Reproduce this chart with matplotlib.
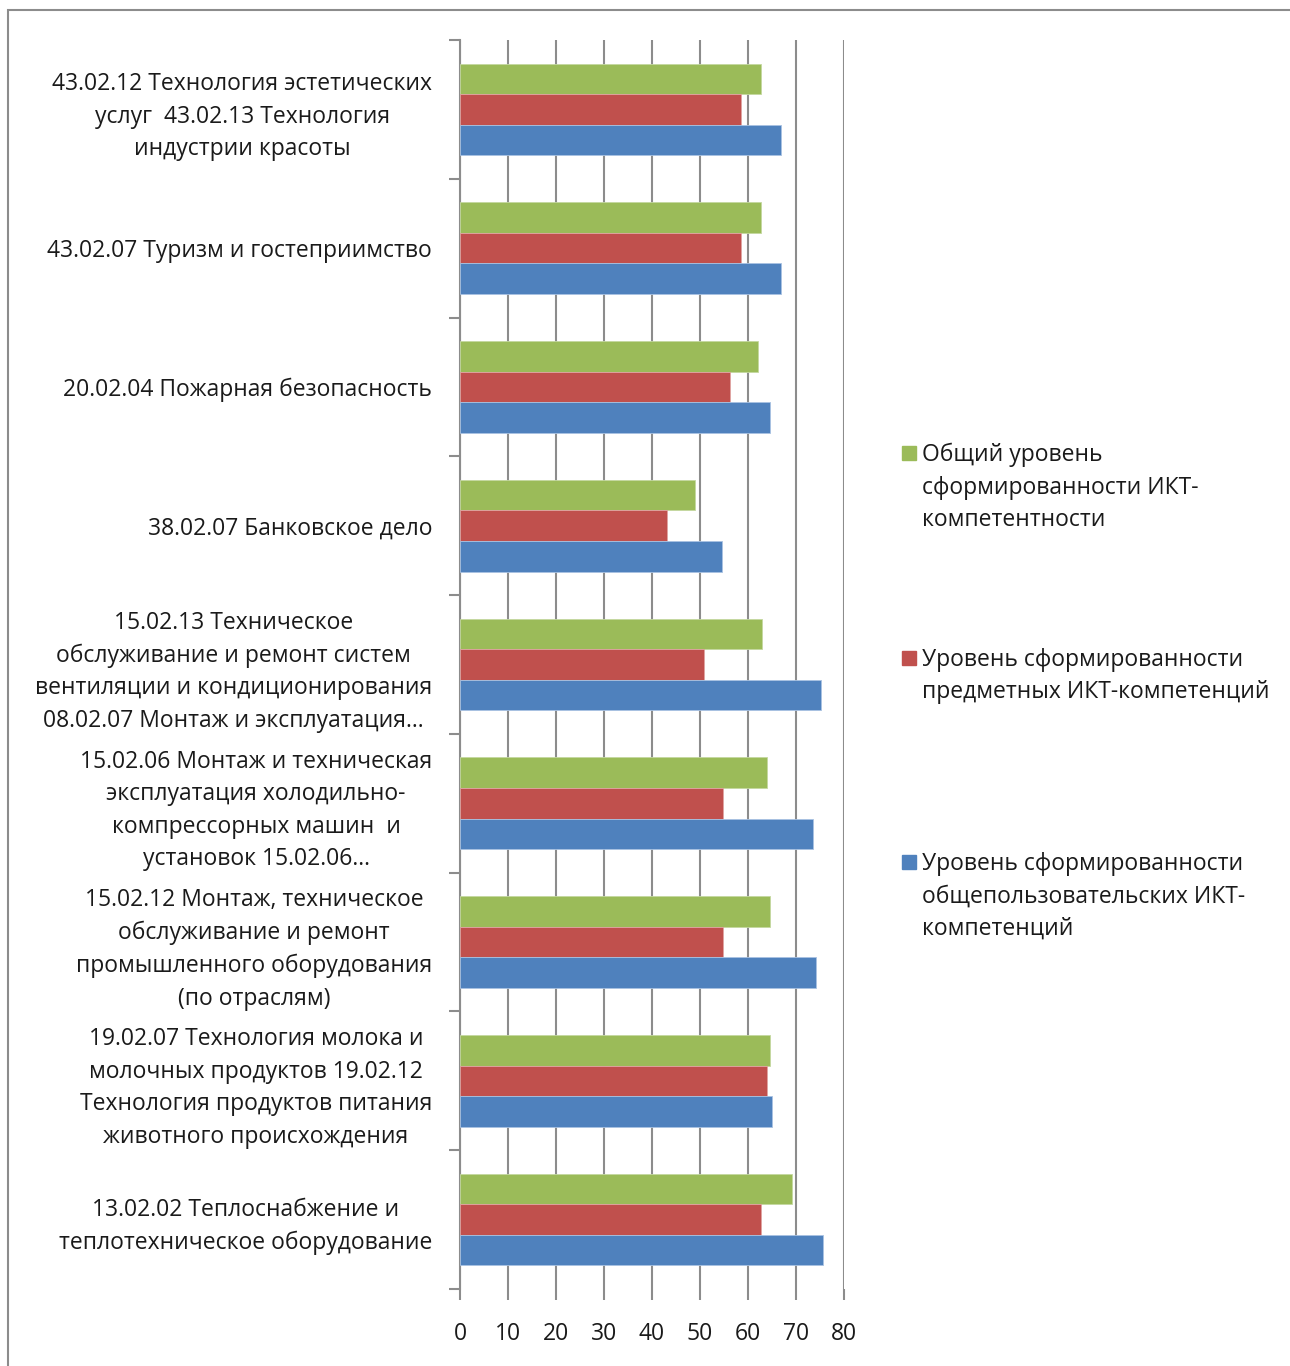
import matplotlib.pyplot as plt
import matplotlib.patches as mpatches
import numpy as np

plt.rcParams['font.family'] = ['Open Sans', 'DejaVu Sans']

# категории снизу вверх (как в Excel)
categories = [
    "13.02.02 Теплоснабжение и\nтеплотехническое оборудование",
    "19.02.07 Технология молока и\nмолочных продуктов 19.02.12\nТехнология продуктов питания\nживотного происхождения",
    "15.02.12 Монтаж, техническое\nобслуживание и ремонт\nпромышленного оборудования\n(по отраслям)",
    "15.02.06 Монтаж и техническая\nэксплуатация холодильно-\nкомпрессорных машин  и\nустановок 15.02.06...",
    "15.02.13 Техническое\nобслуживание и ремонт систем\nвентиляции и кондиционирования\n08.02.07 Монтаж и эксплуатация...",
    "38.02.07 Банковское дело",
    "20.02.04 Пожарная безопасность",
    "43.02.07 Туризм и гостеприимство",
    "43.02.12 Технология эстетических\nуслуг  43.02.13 Технология\nиндустрии красоты",
]

blue = [75.7, 65.1, 74.2, 73.6, 75.3, 54.5, 64.6, 66.9, 66.9]
red = [62.7, 64.0, 54.7, 54.7, 50.9, 43.2, 56.3, 58.6, 58.6]
green = [69.1, 64.6, 64.6, 64.0, 62.9, 48.9, 62.0, 62.7, 62.7]

series_names = [
    "Общий уровень\nсформированности ИКТ-\nкомпетентности",
    "Уровень сформированности\nпредметных ИКТ-компетенций",
    "Уровень сформированности\nобщепользовательских ИКТ-\nкомпетенций",
]
colors = ['#9BBB59', '#C0504D', '#4F81BD']

W, H = 1290, 1366
fs = 16.5
fig = plt.figure(figsize=(W / 100, H / 100), dpi=100)

# рамка
fig.patches.append(mpatches.Rectangle((8 / W, -0.1), 1.2, 1 - 10 / H + 0.1,
                                      transform=fig.transFigure, fill=False,
                                      edgecolor='#8c8c8c', lw=1.5))

ax = fig.add_axes([460 / W, 1 - 1289 / H, 384 / W, 1249 / H])

y = np.arange(len(categories))
h = 0.22
ax.barh(y + h, green, h, color=colors[0], edgecolor='#c4d8a0', lw=0.6, zorder=3)
ax.barh(y, red, h, color=colors[1], edgecolor='#e0a4a2', lw=0.6, zorder=3)
ax.barh(y - h, blue, h, color=colors[2], edgecolor='#a9c2e2', lw=0.6, zorder=3)

ax.set_xlim(0, 80)
ax.set_ylim(-0.5, len(categories) - 0.5)
ax.set_xticks(np.arange(0, 81, 10))
ax.grid(axis='x', color='#8c8c8c', lw=1.5, zorder=0)

ax.set_yticks(np.arange(-0.5, len(categories), 1))
ax.set_yticklabels([])
ax.set_yticks(y, minor=True)
ax.set_yticklabels(categories, minor=True)
ax.tick_params(axis='y', which='major', length=8, width=1.5, color='#8c8c8c')
ax.tick_params(axis='y', which='minor', length=0, pad=20, labelsize=fs, labelcolor='#1a1a1a')
ax.tick_params(axis='x', length=8, width=1.5, color='#8c8c8c', pad=16, labelsize=fs, labelcolor='#1a1a1a')
for t in ax.get_yticklabels(minor=True):
    t.set_multialignment('center')
    t.set_linespacing(1.47)

for s in ['top', 'right', 'bottom']:
    ax.spines[s].set_visible(False)
ax.spines['left'].set_color('#8c8c8c')
ax.spines['left'].set_linewidth(1.5)

# легенда
leg_y = [453, 658, 862]
for name, c, yy in zip(series_names, colors, leg_y):
    fig.patches.append(mpatches.Rectangle((902 / W, 1 - (yy + 7) / H), 14 / W, 14 / H,
                                          transform=fig.transFigure, color=c))
    fig.text(922 / W, 1 - (yy - 10) / H, name, fontsize=fs, va='top', ha='left',
             color='#1a1a1a', linespacing=1.47)

fig.savefig('out.png', dpi=100)
